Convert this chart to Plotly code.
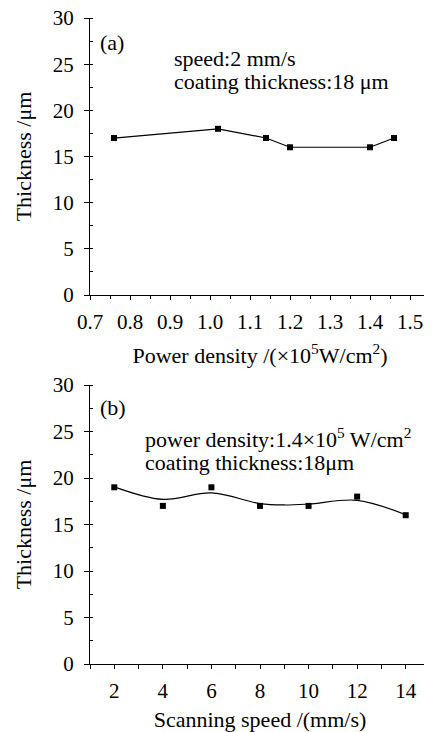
import plotly.graph_objects as go

# Panel (a): thickness vs power density
power_density = [0.76, 1.02, 1.14, 1.20, 1.40, 1.46]
thickness_a = [17, 18, 17, 16, 16, 17]

# Panel (b): thickness vs scanning speed
scan_speed = [2, 4, 6, 8, 10, 12, 14]
thickness_b = [19, 17, 19, 17, 17, 18, 16]
# smoothed fit curve
fit_x = [2, 4, 6, 8, 9, 10, 12, 14]
fit_y = [19.05, 17.7, 18.4, 17.25, 17.1, 17.2, 17.6, 16.05]

FONT = "Liberation Serif"
TICKSZ = 21
TITLESZ = 22
ANNSZ = 22

fig = go.Figure()
fig.add_trace(go.Scatter(x=power_density, y=thickness_a, mode="lines+markers",
                         line=dict(color="black", width=1.2),
                         marker=dict(symbol="square", size=6, color="black"),
                         xaxis="x", yaxis="y", showlegend=False))
fig.add_trace(go.Scatter(x=fit_x, y=fit_y, mode="lines",
                         line=dict(color="black", width=1.2, shape="spline", smoothing=1.0),
                         xaxis="x2", yaxis="y2", showlegend=False))
fig.add_trace(go.Scatter(x=scan_speed, y=thickness_b, mode="markers",
                         marker=dict(symbol="square", size=6, color="black"),
                         xaxis="x2", yaxis="y2", showlegend=False))

axis_common = dict(showline=True, linecolor="black", linewidth=1.2, showgrid=False,
                   zeroline=False, ticks="outside", tickcolor="black", automargin=False,
                   ticklabeloverflow="allow",
                   tickfont=dict(family=FONT, size=TICKSZ, color="black"))

# page body has an 8px offset; compensate
OFF = 8
W, H = 432 - OFF, 732 - OFF
top_px = (18 - OFF, 295 - OFF)
bot_px = (385 - OFF, 664 - OFF)
mt, mb = 18 - OFF, H - (664 - OFF)
ph = H - mt - mb
def dom(p):
    return [(H - mb - p[1]) / ph, (H - mb - p[0]) / ph]

fig.update_layout(
    width=W, height=H,
    margin=dict(l=90 - OFF, r=2, t=mt, b=mb),
    paper_bgcolor="white", plot_bgcolor="white",
    font=dict(family=FONT, size=TICKSZ, color="black"),
    xaxis=dict(axis_common, domain=[0, 1], range=[0.7, 1.55], dtick=0.1, tick0=0.7,
               tickformat=".1f", ticklen=4, anchor="y", ticklabelstandoff=4,
               minor=dict(dtick=0.05, ticks="outside", ticklen=3, tickcolor="black"),
               title=dict(text="Power density /(×10<sup>5</sup>W/cm<sup>2</sup>)",
                          font=dict(family=FONT, size=TITLESZ), standoff=14)),
    yaxis=dict(axis_common, domain=dom(top_px), range=[0, 30], dtick=5, ticklen=5, anchor="x",
               ticklabelstandoff=6,
               minor=dict(dtick=2.5, ticks="inside", ticklen=3, tickcolor="black"),
               title=dict(text="Thickness /μm", font=dict(family=FONT, size=TITLESZ), standoff=15)),
    xaxis2=dict(axis_common, domain=[0, 1], range=[1, 15], dtick=2, tick0=2, ticklen=4,
                anchor="y2", ticklabelstandoff=4,
                minor=dict(dtick=1, ticks="outside", ticklen=4, tickcolor="black"),
                title=dict(text="Scanning speed /(mm/s)", font=dict(family=FONT, size=TITLESZ), standoff=13)),
    yaxis2=dict(axis_common, domain=dom(bot_px), range=[0, 30], dtick=5, ticklen=5, anchor="x2",
                ticklabelstandoff=6,
                minor=dict(dtick=2.5, ticks="inside", ticklen=3, tickcolor="black"),
                title=dict(text="Thickness /μm", font=dict(family=FONT, size=TITLESZ), standoff=15)),
)

ann_font = dict(family=FONT, size=ANNSZ, color="black")
anns = [
    ("x domain", "y domain", 0.0235, 0.913, "(a)"),
    ("x domain", "y domain", 0.241, 0.852, "speed:2 mm/s"),
    ("x domain", "y domain", 0.241, 0.769, "coating thickness:18 μm"),
    ("x2 domain", "y2 domain", 0.0235, 0.918, "(b)"),
    ("x2 domain", "y2 domain", 0.156, 0.81, "power density:1.4×10<sup>5</sup> W/cm<sup>2</sup>"),
    ("x2 domain", "y2 domain", 0.156, 0.724, "coating thickness:18μm"),
]
for xr, yr, x, y, t in anns:
    fig.add_annotation(xref=xr, yref=yr, x=x, y=y, text=t, showarrow=False,
                       xanchor="left", yanchor="middle", font=ann_font)

fig.write_html("out.html")
